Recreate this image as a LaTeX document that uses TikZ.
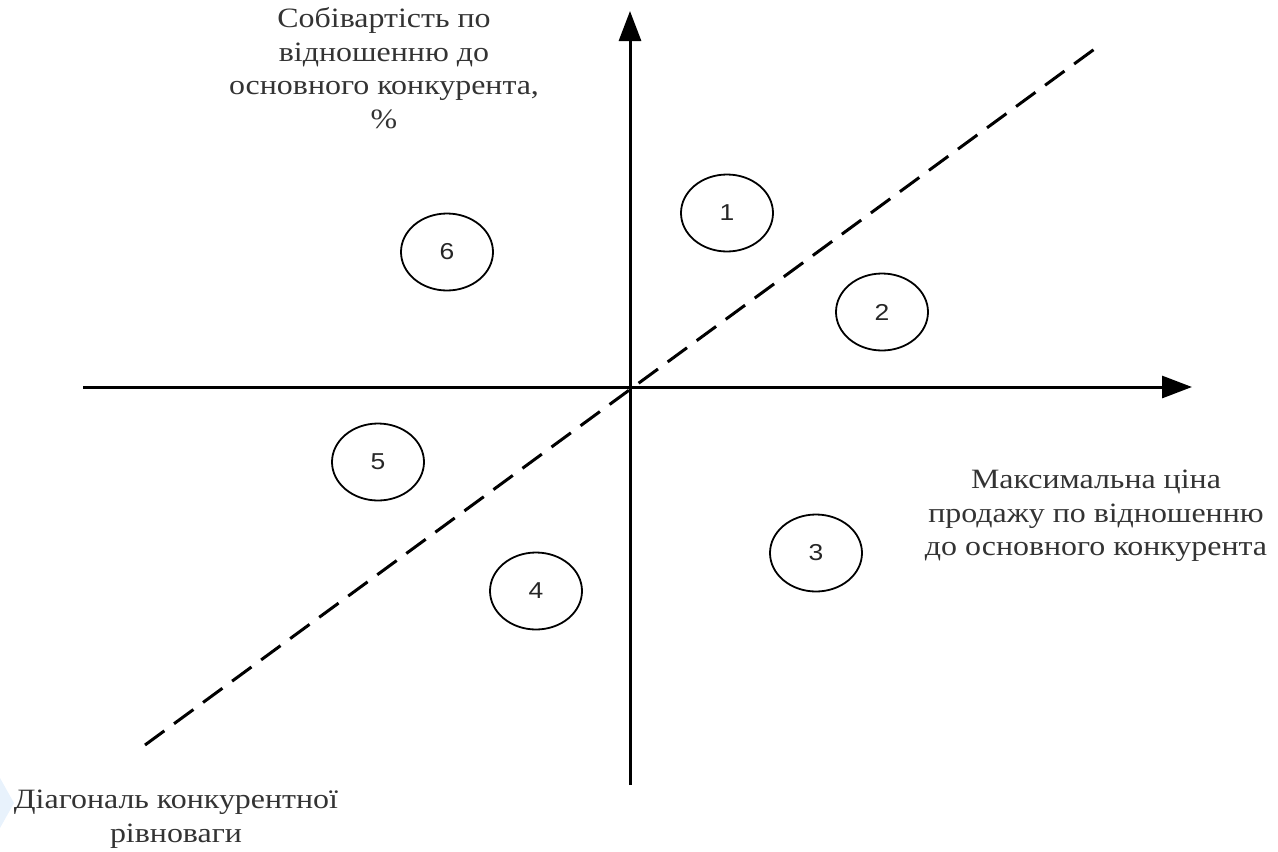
\documentclass[tikz,border=0pt]{standalone}
\usepackage{fontspec}
\setmainfont{Liberation Serif}[FakeStretch=1.14]
\newfontfamily\numfont{Liberation Sans}[FakeStretch=1.15]
\usetikzlibrary{arrows.meta,shapes.geometric}
\definecolor{wm}{RGB}{232,242,252}
\tikzset{
  axis/.style={line width=3pt,-{Triangle[length=30pt,width=22pt]}},
  diag/.style={line width=3pt,dash pattern=on 24pt off 12pt},
  zone/.style={ellipse,draw,line width=1.8pt,minimum width=92pt,minimum height=77pt,inner sep=0pt,text=black!85,font=\numfont\fontsize{23}{25}\selectfont},
  lbl/.style={align=center,text=black!80,font=\fontsize{28}{33.5}\selectfont},
}
\begin{document}
\begin{tikzpicture}[x=1pt,y=-1pt]
\useasboundingbox (0,0) rectangle (1278,852);
\fill[wm] (0,778) -- (14,803) -- (0,828) -- cycle;
\coordinate (xl) at (83,387);
\coordinate (xr) at (1192,387);
\coordinate (yb) at (630,785);
\coordinate (yt) at (630,11);
\coordinate (dl) at (145,745);
\coordinate (dr) at (1100,45);
\draw[axis] (xl) -- (xr);
\draw[axis] (yb) -- (yt);
\draw[diag] (dl) -- (dr);
\node[zone] (z1) at (727,213) {1};
\node[zone] (z2) at (882,312) {2};
\node[zone] (z3) at (816,553) {3};
\node[zone] (z4) at (536,591) {4};
\node[zone] (z5) at (378,462) {5};
\node[zone] (z6) at (447,252) {6};
\node[lbl] (ty) at (384,68) {Собівартість по\\відношенню до\\основного конкурента,\\\%};
\node[lbl] (tx) at (1096,516) {Максимальна ціна\\продажу по відношенню\\до основного конкурента};
\node[lbl] (td) at (176,819) {Діагональ конкурентної\\рівноваги};
\end{tikzpicture}
\end{document}
